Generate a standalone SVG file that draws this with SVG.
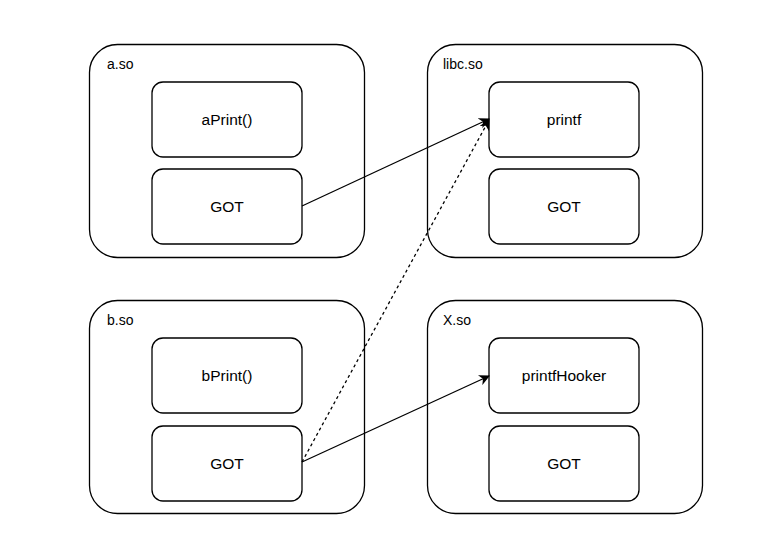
<svg xmlns="http://www.w3.org/2000/svg" width="757" height="551" viewBox="0 0 757 551">
<style>
.outer{fill:#fff;stroke:#000;stroke-width:1.3}
.inner{fill:#fff;stroke:#000;stroke-width:1.3}
.t{font-family:"Comic Sans MS","Liberation Sans",sans-serif;font-size:14px;fill:#000}
.i{font-size:15.5px;text-anchor:middle}
.e{fill:none;stroke:#000;stroke-width:1.3}
</style>
<defs>
<marker id="ah" viewBox="0 0 10 10" refX="9" refY="5" markerWidth="11" markerHeight="11" markerUnits="userSpaceOnUse" orient="auto">
<path d="M0,0 L10,5 L0,10 L3,5 Z" fill="#000"/>
</marker>
</defs>
<rect width="757" height="551" fill="#fff"/>
<g id="a_so">
<rect class="outer" x="89.5" y="44.5" width="275" height="213" rx="28"/>
<text class="t" x="107" y="69">a.so</text>
</g>
<g id="aPrint">
<rect class="inner" x="152" y="82" width="150" height="75" rx="11"/>
<text class="t i" x="227" y="125">aPrint()</text>
</g>
<g id="a_got">
<rect class="inner" x="152" y="169" width="150" height="75" rx="11"/>
<text class="t i" x="227" y="212">GOT</text>
</g>
<g id="libc_so">
<rect class="outer" x="427.5" y="44.5" width="275" height="213" rx="28"/>
<text class="t" x="443" y="69">libc.so</text>
</g>
<g id="printf">
<rect class="inner" x="489" y="82" width="150" height="75" rx="11"/>
<text class="t i" x="564" y="125">printf</text>
</g>
<g id="libc_got">
<rect class="inner" x="489" y="169" width="150" height="75" rx="11"/>
<text class="t i" x="564" y="212">GOT</text>
</g>
<g id="b_so">
<rect class="outer" x="89.5" y="300.5" width="275" height="213" rx="28"/>
<text class="t" x="107" y="325">b.so</text>
</g>
<g id="bPrint">
<rect class="inner" x="152" y="338" width="150" height="75" rx="11"/>
<text class="t i" x="227" y="381">bPrint()</text>
</g>
<g id="b_got">
<rect class="inner" x="152" y="426" width="150" height="75" rx="11"/>
<text class="t i" x="227" y="469">GOT</text>
</g>
<g id="x_so">
<rect class="outer" x="427.5" y="300.5" width="275" height="213" rx="28"/>
<text class="t" x="443" y="325">X.so</text>
</g>
<g id="printfHooker">
<rect class="inner" x="489" y="338" width="150" height="75" rx="11"/>
<text class="t i" x="564" y="381">printfHooker</text>
</g>
<g id="x_got">
<rect class="inner" x="489" y="426" width="150" height="75" rx="11"/>
<text class="t i" x="564" y="469">GOT</text>
</g>
<g id="connectors">
<line class="e" x1="302" y1="206" x2="489" y2="119" marker-end="url(#ah)"/>
<line class="e" x1="302" y1="462" x2="489" y2="120" stroke-dasharray="3,3" marker-end="url(#ah)"/>
<line class="e" x1="302" y1="462" x2="489" y2="376" marker-end="url(#ah)"/>
</g>
</svg>
